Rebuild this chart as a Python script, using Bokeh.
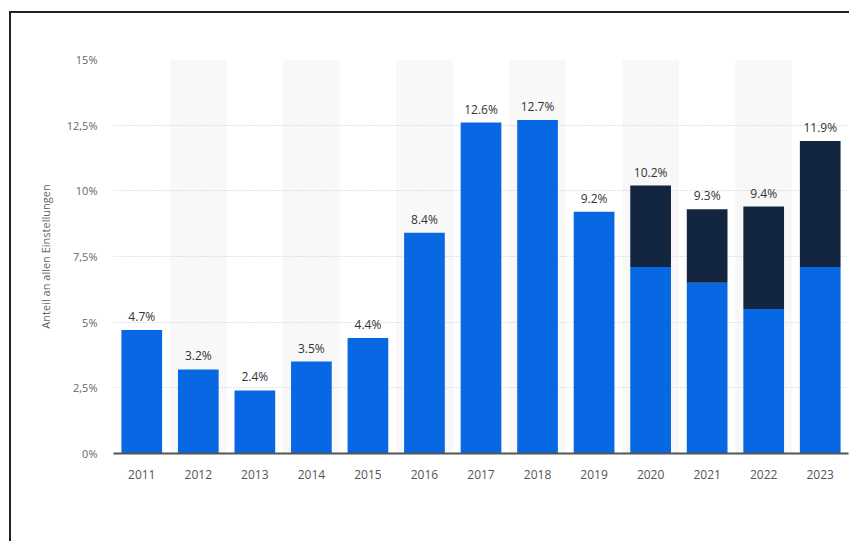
from bokeh.plotting import figure
from bokeh.models import ColumnDataSource, FixedTicker, Legend, LegendItem
from bokeh.embed import file_html
from bokeh.resources import INLINE
from bokeh.core.properties import value

years = ["2011", "2012", "2013", "2014", "2015", "2016", "2017", "2018", "2019", "2020", "2021", "2022", "2023"]
master = [4.7, 3.2, 2.4, 3.5, 4.4, 8.4, 12.6, 12.7, 9.2, 7.1, 6.5, 5.5, 7.1]
others = [0, 0, 0, 0, 0, 0, 0, 0, 0, 3.1, 2.8, 3.9, 4.8]
totals = [4.7, 3.2, 2.4, 3.5, 4.4, 8.4, 12.6, 12.7, 9.2, 10.2, 9.3, 9.4, 11.9]
tick_values = [0, 2.5, 5, 7.5, 10, 12.5, 15]
tick_labels = ["0%", "2,5%", "5%", "7,5%", "10%", "12,5%", "15%"]
series_names = ["Seiteneinsteiger mit Hochschulabschluss auf Masterniveau", "Übrige Seiteneinsteiger¹"]

BLUE = "#0867e3"
NAVY = "#13263f"
FONT = "Open Sans"

src = ColumnDataSource(dict(
    year=years, master=master, others=others, total=totals,
    label=[f"{t:.1f}%" for t in totals],
))

p = figure(x_range=years, y_range=(0, 15), frame_width=735, frame_height=394,
           output_backend="svg", toolbar_location=None,
           min_border_left=102, min_border_right=1, min_border_top=46, min_border_bottom=53)
p.styles = {"border-top": "2px solid #222222", "border-left": "2px solid #222222",
            "margin-top": "11px", "margin-left": "9px"}
p.outline_line_color = None
p.background_fill_color = "white"

# alternating background bands
band_years = years[1::2]
p.vbar(x=band_years, top=[15] * len(band_years), width=1.0, fill_color="#f8f8f8",
       line_color=None, level="image")

p.vbar_stack(["master", "others"], x="year", width=0.72, source=src,
             color=[BLUE, NAVY], line_color=None)

p.text(x="year", y="total", text="label", source=src, text_align="center",
       text_baseline="bottom", y_offset=-5, text_font=value(FONT),
       text_font_size="12px", text_color="#333333")

# axes
p.xaxis.axis_line_color = "#555555"
p.xaxis.axis_line_width = 2
p.xaxis.major_tick_line_color = None
p.xaxis.minor_tick_line_color = None
p.xaxis.major_label_text_font = FONT
p.xaxis.major_label_text_font_size = "12px"
p.xaxis.major_label_text_color = "#555555"
p.xaxis.major_label_standoff = 10

p.yaxis.ticker = FixedTicker(ticks=tick_values)
p.yaxis.major_label_overrides = {v: l for v, l in zip(tick_values, tick_labels)}
p.yaxis.axis_line_color = None
p.yaxis.major_tick_line_color = None
p.yaxis.minor_tick_line_color = None
p.yaxis.major_label_text_font = FONT
p.yaxis.major_label_text_font_size = "11px"
p.yaxis.major_label_text_color = "#666666"
p.yaxis.major_label_standoff = 10
p.yaxis.axis_label = "Anteil an allen Einstellungen"
p.yaxis.axis_label_text_font = FONT
p.yaxis.axis_label_text_font_size = "11px"
p.yaxis.axis_label_text_font_style = "normal"
p.yaxis.axis_label_text_color = "#666666"
p.yaxis.axis_label_standoff = 11

p.xgrid.grid_line_color = None
p.ygrid.ticker = FixedTicker(ticks=tick_values)
p.ygrid.grid_line_color = "#c8c8c8"
p.ygrid.grid_line_dash = "1 2"
p.ygrid.grid_line_width = 1

# legend with circle markers (size 0 helpers: invisible in the plot)
r1 = p.scatter(x=years, y=master, marker="circle", size=0, color=BLUE)
r2 = p.scatter(x=years, y=totals, marker="circle", size=0, color=NAVY)
legend = Legend(items=[LegendItem(label=series_names[0], renderers=[r1]),
                       LegendItem(label=series_names[1], renderers=[r2])],
                orientation="horizontal", location="bottom_left",
                label_text_font="DejaVu Sans Condensed", label_text_font_style="bold",
                label_text_font_size="10.5px", label_text_color="#222222",
                border_line_color=None, background_fill_alpha=0,
                glyph_width=32, glyph_height=32, spacing=4, label_standoff=0,
                margin=0, padding=0)
p.add_layout(legend, "below")

open("out.html", "w").write(file_html(p, INLINE))
